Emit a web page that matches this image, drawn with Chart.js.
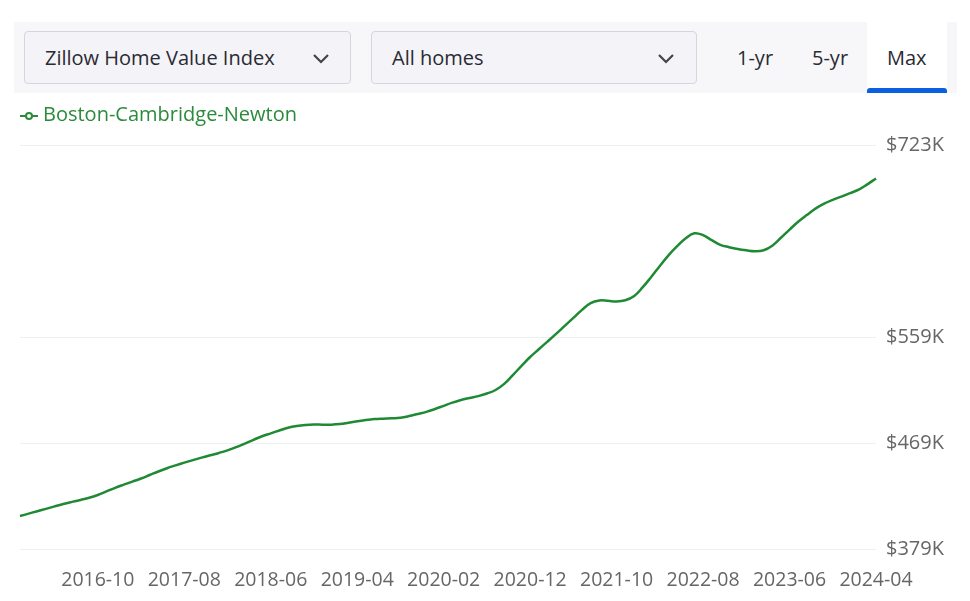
<!DOCTYPE html>
<html>
<head>
<meta charset="utf-8">
<script src="https://cdn.jsdelivr.net/npm/chart.js@4"></script>
<style>
  html, body { margin: 0; padding: 0; background: #fff; width: 970px; height: 601px; overflow: hidden; font-family: "Open Sans", sans-serif; }
  #wrap { position: relative; width: 970px; height: 601px; }
  #chart { position: absolute; left: 0; top: 0; }
  .strip { position: absolute; left: 14px; top: 22px; width: 943px; height: 71px; background: #f7f7f9; }
  .dd { position: absolute; top: 31px; border: 1px solid #d5d5dc; border-radius: 4px; background: #f4f4f8; box-sizing: border-box; height: 53px; }
  .dd span { position: absolute; left: 20px; top: 12px; font-size: 20px; color: #2a2a33; }
  .dd svg { position: absolute; top: 20px; }
  .tab { position: absolute; top: 44px; font-size: 20px; color: #2a2a33; }
  .max { position: absolute; left: 867px; top: 22px; width: 80px; height: 71px; background: #fff; }
  .max .bar { position: absolute; left: 0; bottom: 0; width: 80px; height: 5px; background: #0b5fe0; border-radius: 3px 3px 0 0; }
  .legend { position: absolute; left: 20px; top: 101px; font-size: 20px; color: #2b8a3c; }
  .legend svg { position: absolute; left: 0; top: 8px; }
  .legend span { position: absolute; left: 23px; top: -1px; white-space: nowrap; }
</style>
</head>
<body>
<div id="wrap">
  <canvas id="chart" width="970" height="601"></canvas>
  <div class="strip"></div>
  <div class="dd" style="left:24px;width:327px;"><span>Zillow Home Value Index</span>
    <svg style="left:286px" width="20" height="14"><polyline points="3,3 10,10 17,3" fill="none" stroke="#444" stroke-width="2.2"/></svg></div>
  <div class="dd" style="left:371px;width:326px;"><span>All homes</span>
    <svg style="left:284px" width="20" height="14"><polyline points="3,3 10,10 17,3" fill="none" stroke="#444" stroke-width="2.2"/></svg></div>
  <div class="tab" style="left:737px">1-yr</div>
  <div class="tab" style="left:812px">5-yr</div>
  <div class="max"><div class="tab" style="left:20px;top:22px">Max</div><div class="bar"></div></div>
  <div class="legend">
    <svg width="20" height="14"><line x1="0" y1="7" x2="18" y2="7" stroke="#2b8a3c" stroke-width="2"/><circle cx="9" cy="7" r="3" fill="#fff" stroke="#2b8a3c" stroke-width="2"/></svg>
    <span>Boston-Cambridge-Newton</span>
  </div>
</div>
<script>
// Boston-Cambridge-Newton ZHVI, monthly 2016-01 .. 2024-04 (thousands of $)
const seriesName = 'Boston-Cambridge-Newton';
const firstYear = 2016;
const firstMonth = 1;
const zhvi = [
  407.1, 409.1, 411.2, 413.2, 415.3, 417.3, 419.1, 420.8, 422.6, 425.0,
  428.0, 431.1, 433.8, 436.4, 439.0, 442.0, 445.0, 447.8, 450.2, 452.5,
  454.7, 456.8, 458.8, 460.8, 463.0, 465.7, 468.8, 472.0, 475.0, 477.5,
  479.9, 482.2, 483.7, 484.6, 485.0, 484.9, 484.9, 485.4, 486.5, 487.7,
  488.8, 489.6, 490.0, 490.3, 490.8, 492.2, 494.0, 495.8, 498.2, 500.9,
  503.6, 505.9, 507.6, 509.2, 511.4, 514.4, 519.6, 527.1, 534.9, 542.5,
  549.1, 555.6, 562.2, 569.0, 575.8, 582.6, 588.4, 590.6, 590.3, 589.8,
  590.8, 594.2, 601.7, 610.6, 620.0, 629.0, 636.8, 643.6, 647.8, 646.2,
  642.0, 638.0, 636.0, 634.4, 633.3, 632.6, 633.4, 637.3, 644.0, 651.0,
  657.6, 663.3, 668.8, 673.0, 676.3, 679.1, 682.0, 685.0, 689.5, 694.5
];
const xTickLabels = ['2016-10', '2017-08', '2018-06', '2019-04', '2020-02',
  '2020-12', '2021-10', '2022-08', '2023-06', '2024-04'];
const yTicks = [379, 469, 559, 723];

const months = zhvi.map((_, i) => {
  const m = firstMonth - 1 + i;
  const y = firstYear + Math.floor(m / 12);
  return y + '-' + String(m % 12 + 1).padStart(2, '0');
});

const ctx = document.getElementById('chart').getContext('2d');
new Chart(ctx, {
  type: 'line',
  data: {
    labels: months,
    datasets: [{
      label: seriesName,
      data: zhvi,
      borderColor: '#1f8a33',
      borderWidth: 2.5,
      pointRadius: 0,
      tension: 0.4,
      fill: false
    }]
  },
  options: {
    responsive: false,
    animation: false,
    layout: { padding: { left: 20, right: 0, top: 145, bottom: 0 } },
    plugins: { legend: { display: false }, tooltip: { enabled: false } },
    scales: {
      x: {
        offset: false,
        grid: { display: false, drawTicks: false },
        border: { display: false },
        afterFit: (s) => { s.height = 52; },
        ticks: {
          autoSkip: false,
          maxRotation: 0,
          padding: 20,
          color: '#666',
          font: { family: 'Open Sans', size: 19.5 },
          callback: function (v) {
            const lab = this.getLabelForValue(v);
            return xTickLabels.includes(lab) ? lab : null;
          }
        }
      },
      y: {
        position: 'right',
        min: yTicks[0],
        max: yTicks[yTicks.length - 1],
        afterBuildTicks: (s) => { s.ticks = yTicks.map(v => ({ value: v })); },
        afterFit: (s) => { s.width = 970 - 876; },
        grid: { color: '#efefef', lineWidth: 1, drawTicks: false },
        border: { display: false },
        ticks: {
          padding: 10,
          color: '#666',
          font: { family: 'Open Sans', size: 20 },
          callback: (v) => '$' + v + 'K'
        }
      }
    }
  }
});
</script>
</body>
</html>
